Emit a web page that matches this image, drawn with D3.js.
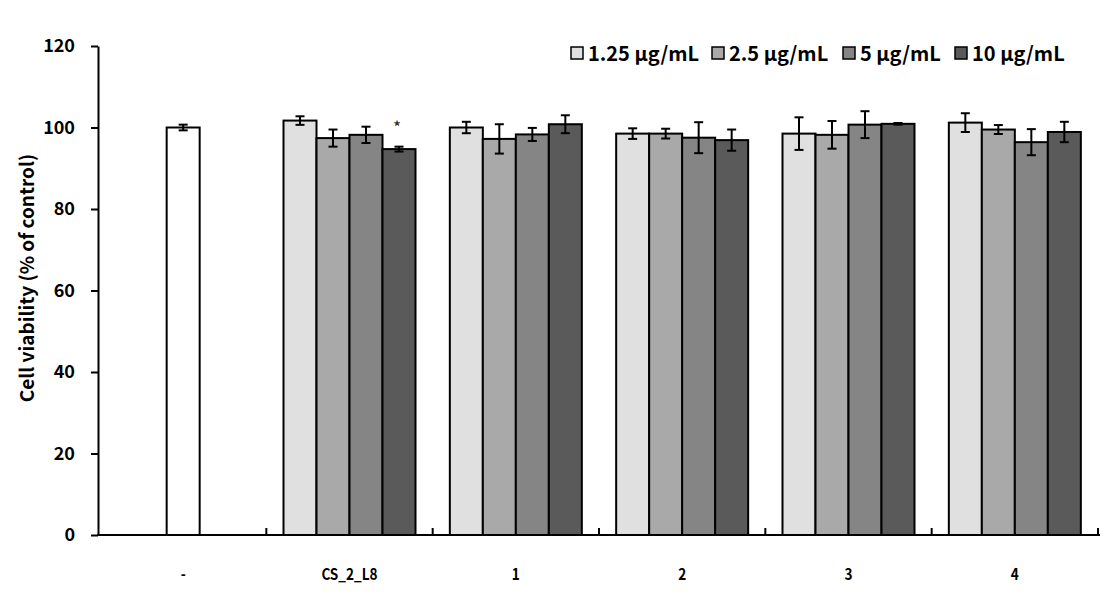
<!DOCTYPE html>
<html>
<head>
<meta charset="utf-8">
<script src="https://cdn.jsdelivr.net/npm/d3@7"></script>
<style>
  body { margin: 0; background: #fff; }
  svg { display: block; }
  text { font-family: "Noto Sans CJK KR", "Open Sans", sans-serif; font-weight: bold; }
</style>
</head>
<body>
<svg id="chart" width="1115" height="609"></svg>
<script>
const groups = ["-", "CS_2_L8", "1", "2", "3", "4"];
const series = ["1.25 μg/mL", "2.5 μg/mL", "5 μg/mL", "10 μg/mL"];
const colors = ["#e0e0e0", "#a9a9a9", "#858585", "#5a5a5a"];
const controlValue = 100.0;
const controlError = 0.7;
// values per group (excluding control), per series
const values = [
  [101.7, 97.4, 98.2, 94.7],
  [100.0, 97.2, 98.3, 100.8],
  [98.5, 98.5, 97.5, 96.9],
  [98.5, 98.2, 100.7, 100.9],
  [101.2, 99.5, 96.4, 98.9]
];
const errors = [
  [1.05, 2.1, 2.0, 0.6],
  [1.4, 3.6, 1.6, 2.2],
  [1.3, 1.2, 3.8, 2.6],
  [4.0, 3.4, 3.3, 0.2],
  [2.3, 1.1, 3.2, 2.5]
];
const yTicks = [0, 20, 40, 60, 80, 100, 120];
const marks = [{ group: "CS_2_L8", series: "10 μg/mL", label: "*" }];

const svg = d3.select("#chart");
const x = d3.scaleBand().domain(groups).range([100, 1098]).paddingInner(0).paddingOuter(0);
const y = d3.scaleLinear().domain([0, 120]).range([535, 46]);
const inner = d3.scaleBand().domain(series).range([-66, 66]).padding(0);
const bw = inner.bandwidth();

// y axis
const yAxis = svg.append("g").attr("transform", "translate(98,0)")
  .call(d3.axisLeft(y).tickValues(yTicks).tickSize(7).tickPadding(16).tickSizeOuter(0));
yAxis.select(".domain").attr("stroke", "#000").attr("stroke-width", 2);
yAxis.selectAll(".tick line").attr("stroke", "#000").attr("stroke-width", 2);
yAxis.selectAll(".tick text").attr("font-size", 18).attr("fill", "#000");

// bars: control
const cx = x("-") + x.bandwidth() / 2;
svg.append("rect")
  .attr("x", cx - bw / 2).attr("y", y(controlValue))
  .attr("width", bw).attr("height", y(0) - y(controlValue))
  .attr("fill", "#fff").attr("stroke", "#000").attr("stroke-width", 2);

function errBar(px, v, e) {
  svg.append("line").attr("x1", px).attr("x2", px).attr("y1", y(v + e)).attr("y2", y(v - e))
    .attr("stroke", "#000").attr("stroke-width", 2);
  [v + e, v - e].forEach(t => svg.append("line").attr("x1", px - 4.5).attr("x2", px + 4.5)
    .attr("y1", y(t)).attr("y2", y(t)).attr("stroke", "#000").attr("stroke-width", 2));
}

const dataGroups = groups.slice(1);
dataGroups.forEach((g, gi) => {
  const gc = x(g) + x.bandwidth() / 2;
  series.forEach((s, si) => {
    const v = values[gi][si];
    svg.append("rect")
      .attr("x", gc + inner(s)).attr("y", y(v))
      .attr("width", bw).attr("height", y(0) - y(v))
      .attr("fill", colors[si]).attr("stroke", "#000").attr("stroke-width", 2);
  });
});
errBar(cx, controlValue, controlError);
dataGroups.forEach((g, gi) => {
  const gc = x(g) + x.bandwidth() / 2;
  series.forEach((s, si) => errBar(gc + inner(s) + bw / 2, values[gi][si], errors[gi][si]));
});

// significance marks
marks.forEach(m => {
  const gi = dataGroups.indexOf(m.group), si = series.indexOf(m.series);
  const px = x(m.group) + x.bandwidth() / 2 + inner(m.series) + bw / 2 - 2;
  svg.append("text").attr("x", px).attr("y", y(values[gi][si] + errors[gi][si]) - 15)
    .attr("text-anchor", "middle").attr("font-size", 14).attr("font-weight", "normal")
    .attr("fill", "#333").text(m.label);
});

// x axis
const xAxis = svg.append("g").attr("transform", "translate(0,535)");
xAxis.append("line").attr("x1", 97).attr("x2", 1100).attr("y1", 0).attr("y2", 0)
  .attr("stroke", "#000").attr("stroke-width", 2);
const bounds = groups.map(g => x(g)).concat([x(groups[groups.length - 1]) + x.bandwidth()]);
bounds.slice(1).forEach(b => xAxis.append("line").attr("x1", b).attr("x2", b)
  .attr("y1", 0).attr("y2", -7).attr("stroke", "#000").attr("stroke-width", 2));
groups.forEach(g => xAxis.append("text")
  .attr("transform", `translate(${x(g) + x.bandwidth() / 2},45) scale(0.85,1)`)
  .attr("text-anchor", "middle").attr("font-size", 16).attr("fill", "#000").text(g));

// y title
svg.append("text").attr("transform", "translate(34,278) rotate(-90)")
  .attr("text-anchor", "middle").attr("font-size", 19).attr("fill", "#000")
  .text("Cell viability (% of control)");

// legend
const legendX = [571, 712, 843, 955];
const legend = svg.append("g");
series.forEach((s, i) => {
  legend.append("rect").attr("x", legendX[i]).attr("y", 47).attr("width", 12).attr("height", 12)
    .attr("fill", colors[i]).attr("stroke", "#000").attr("stroke-width", 1.5);
  legend.append("text").attr("x", legendX[i] + 17).attr("y", 61).attr("font-size", 20)
    .attr("fill", "#000").text(s);
});
</script>
</body>
</html>
